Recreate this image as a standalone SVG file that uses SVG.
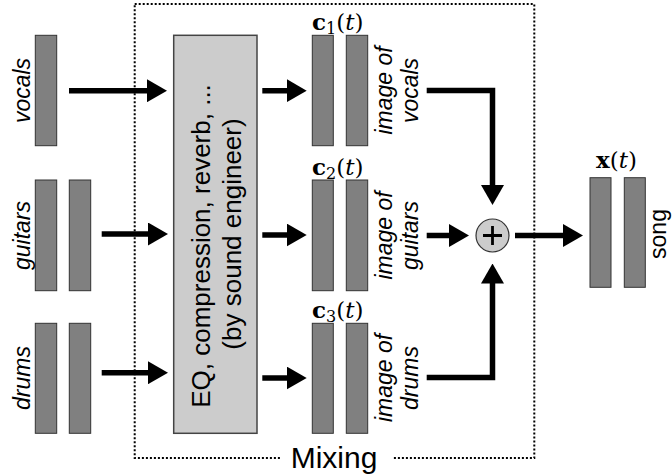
<svg xmlns="http://www.w3.org/2000/svg" width="672" height="476" viewBox="0 0 672 476">
<style>
.bar{fill:#808080;stroke:#333;stroke-width:1}
.lbl{font-family:"Liberation Sans",Arial,sans-serif;font-size:23px;fill:#000}
.big{font-size:26px}
.it{font-style:italic}
.math{font-family:"DejaVu Serif","Liberation Serif",serif;font-size:23px;fill:#000}
.conn{fill:none;stroke:#000;stroke-width:5.5;stroke-linejoin:miter}
</style>
<defs>
<marker id="ah" markerUnits="userSpaceOnUse" viewBox="0 0 20 23" refX="10" refY="11.5" markerWidth="20" markerHeight="23" orient="auto">
<path d="M0,0 L20,11.5 L0,23 Z" fill="#000"/>
</marker>
</defs>
<rect width="672" height="476" fill="#fff"/>

<g id="mixing-box">
<rect x="134.7" y="4" width="399.6" height="454" fill="none" stroke="#000" stroke-width="2" stroke-dasharray="2,2"/>
<rect x="280" y="440" width="113" height="36" fill="#fff"/>
<text x="334" y="468" text-anchor="middle" font-family="'Liberation Sans',Arial,sans-serif" font-size="30">Mixing</text>
</g>

<g id="vocals">
<rect class="bar" x="35.3" y="35.3" width="21.4" height="110.4"/>
<text class="lbl it" transform="translate(30,90.5) rotate(-90)" text-anchor="middle">vocals</text>
</g>
<g id="guitars">
<rect class="bar" x="35.3" y="180" width="21.4" height="110.7"/>
<rect class="bar" x="69.3" y="180" width="21.4" height="110.7"/>
<text class="lbl it" transform="translate(30,235.5) rotate(-90)" text-anchor="middle">guitars</text>
</g>
<g id="drums">
<rect class="bar" x="35.3" y="323.3" width="21.4" height="110"/>
<rect class="bar" x="69.3" y="323.3" width="21.4" height="110"/>
<text class="lbl it" transform="translate(30,378) rotate(-90)" text-anchor="middle">drums</text>
</g>

<g id="processing">
<rect x="173.7" y="35.3" width="83.3" height="398" fill="#cccccc" stroke="#444" stroke-width="1.5"/>
<text class="lbl big" transform="translate(210.3,246) rotate(-90)" text-anchor="middle">EQ, compression, reverb, ...</text>
<text class="lbl big" transform="translate(240.5,234) rotate(-90)" text-anchor="middle">(by sound engineer)</text>
</g>

<g id="image-vocals">
<rect class="bar" x="312.3" y="35.3" width="21" height="110.4"/>
<rect class="bar" x="346.3" y="35.3" width="21.4" height="110.4"/>
<text class="math" x="312" y="30"><tspan font-weight="bold">c</tspan><tspan font-size="16" dy="4">1</tspan><tspan dy="-4">(</tspan><tspan font-style="italic">t</tspan>)</text>
<text class="lbl it" transform="translate(392,90.5) rotate(-90)" text-anchor="middle">image of</text>
<text class="lbl it" transform="translate(418.3,90.5) rotate(-90)" text-anchor="middle">vocals</text>
</g>
<g id="image-guitars">
<rect class="bar" x="312.3" y="180" width="21" height="110.7"/>
<rect class="bar" x="346.3" y="180" width="21.4" height="110.7"/>
<text class="math" x="312" y="175"><tspan font-weight="bold">c</tspan><tspan font-size="16" dy="4">2</tspan><tspan dy="-4">(</tspan><tspan font-style="italic">t</tspan>)</text>
<text class="lbl it" transform="translate(392,235.5) rotate(-90)" text-anchor="middle">image of</text>
<text class="lbl it" transform="translate(418.3,235.5) rotate(-90)" text-anchor="middle">guitars</text>
</g>
<g id="image-drums">
<rect class="bar" x="312.3" y="323.3" width="21" height="110"/>
<rect class="bar" x="346.3" y="323.3" width="21.4" height="110"/>
<text class="math" x="312" y="318"><tspan font-weight="bold">c</tspan><tspan font-size="16" dy="4">3</tspan><tspan dy="-4">(</tspan><tspan font-style="italic">t</tspan>)</text>
<text class="lbl it" transform="translate(392,378) rotate(-90)" text-anchor="middle">image of</text>
<text class="lbl it" transform="translate(418.3,378) rotate(-90)" text-anchor="middle">drums</text>
</g>

<g id="sum">
<circle cx="492.5" cy="235.5" r="16.5" fill="#cccccc" stroke="#333" stroke-width="1.2"/>
<path d="M483,235.5 H502 M492.5,226 V245" stroke="#000" stroke-width="2.8" fill="none"/>
</g>

<g id="song">
<rect class="bar" x="590" y="177.7" width="21" height="109.6"/>
<rect class="bar" x="624.3" y="177.7" width="21" height="109.6"/>
<text class="math" x="596" y="168"><tspan font-weight="bold">x</tspan>(<tspan font-style="italic">t</tspan>)</text>
<text class="lbl" transform="translate(665.5,234) rotate(-90)" text-anchor="middle">song</text>
</g>

<g id="connectors">
<path class="conn" d="M69,90.7 H157" marker-end="url(#ah)"/>
<path class="conn" d="M101.7,234 H158" marker-end="url(#ah)"/>
<path class="conn" d="M101.7,372.7 H158" marker-end="url(#ah)"/>
<path class="conn" d="M262.3,90.7 H296.7" marker-end="url(#ah)"/>
<path class="conn" d="M262.3,235 H296.7" marker-end="url(#ah)"/>
<path class="conn" d="M262.3,378 H296.7" marker-end="url(#ah)"/>
<path class="conn" d="M426.7,90.5 H492.5 V195" marker-end="url(#ah)"/>
<path class="conn" d="M426.7,235.5 H459" marker-end="url(#ah)"/>
<path class="conn" d="M426.7,377.5 H492.5 V273.5" marker-end="url(#ah)"/>
<path class="conn" d="M515,235.5 H573" marker-end="url(#ah)"/>
</g>
</svg>
